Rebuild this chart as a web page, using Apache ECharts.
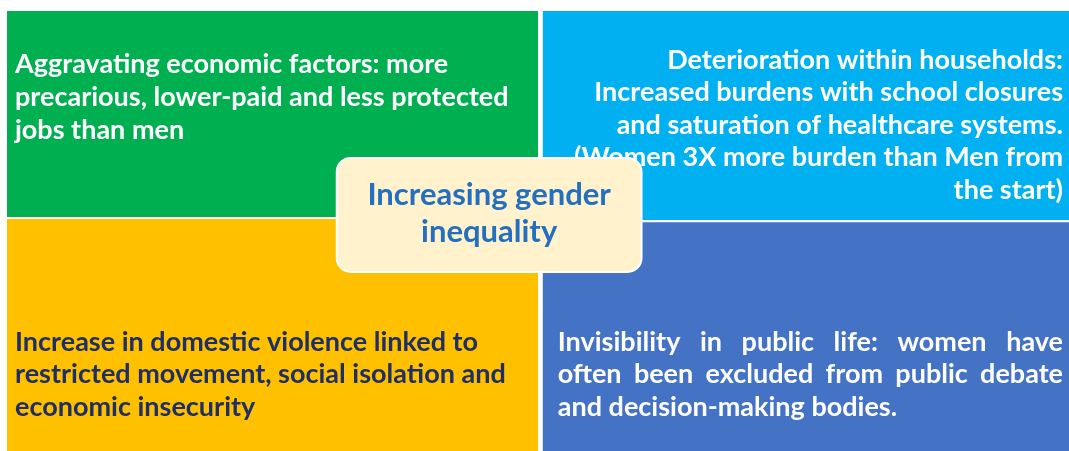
<!DOCTYPE html>
<html>
<head>
<meta charset="utf-8">
<script src="https://cdn.jsdelivr.net/npm/echarts@6/dist/echarts.min.js"></script>
<style>
    html, body {margin: 0; padding: 0; background: #fff;}
    #chart {width: 1069px; height: 451px;}
</style>
</head>
<body>
<div id="chart"></div>
<script>
// quadrant extents in axis units (0..100 both ways, y from top)
const quadrant_x = [[0, 50.0], [50.45, 100], [0, 50.0], [50.45, 100]]
const quadrant_y = [[0, 46.8], [0, 47.5], [47.3, 100], [48.0, 100]]

const quadrant_lines = [
    [
        'Aggravating economic factors: more',
        'precarious, lower-paid and less protected',
        'jobs than men',
    ],
    [
        'Deterioration within households:',
        'Increased burdens with school closures',
        'and saturation of healthcare systems.',
        '(Women 3X more burden than Men from',
        'the start)',
    ],
    [
        'Increase in domestic violence linked to',
        'restricted movement, social isolation and',
        'economic insecurity',
    ],
    [
        'Invisibility in public life: women have',
        'often been excluded from public debate',
        'and decision-making bodies.',
    ],
]

const center_x = [31.05, 59.75]
const center_y = [33.4, 59.3]
const center_lines = ['Increasing gender', 'inequality']

// styles
const FONT = 'Lato'
const FONT_SIZE = 27
const quadrant_colors = ['#00B050', '#00B0F0', '#FFC000', '#4472C4']
const text_colors = ['#ffffff', '#ffffff', '#1F2F66', '#ffffff']
// pad_l, pad_r, first line centre from top, line height, align
const text_layout = [
    {pad_l: 8, pad_r: 0, top: 53, lh: 33, align: 'left'},
    {pad_l: 0, pad_r: 6, top: 49, lh: 32.5, align: 'right'},
    {pad_l: 8, pad_r: 0, top: 123, lh: 32.5, align: 'left'},
    {pad_l: 15, pad_r: 6, top: 120, lh: 32.5, align: 'justify'},
]

const measure_ctx = document.createElement('canvas').getContext('2d')
const text_width = (s, size) => {
    measure_ctx.font = `bold ${size}px ${FONT}`
    return measure_ctx.measureText(s).width
}

const text_el = (text, x, y, align, fill, size) => ({
    type: 'text',
    style: {
        text,
        x,
        y,
        align,
        verticalAlign: 'middle',
        fill,
        font: `bold ${size}px ${FONT}`,
    },
})

const build_lines = (lines, x0, x1, y0, lay, fill, size) => {
    const out = []
    lines.forEach((line, i) => {
        const y = y0 + i * lay.lh
        if (lay.align === 'justify' && i < lines.length - 1) {
            const words = line.split(' ')
            const widths = words.map(w => text_width(w, size))
            const total = widths.reduce((a, b) => a + b, 0)
            const gap = (x1 - x0 - total) / (words.length - 1)
            let x = x0
            words.forEach((w, k) => {
                out.push(text_el(w, x, y, 'left', fill, size))
                x += widths[k] + gap
            })
        } else if (lay.align === 'right') {
            out.push(text_el(line, x1, y, 'right', fill, size))
        } else {
            out.push(text_el(line, x0, y, 'left', fill, size))
        }
    })
    return out
}

const quadrant_data = quadrant_x.map((v, i) => [v[0], v[1], quadrant_y[i][0], quadrant_y[i][1], i])

const chart = echarts.init(document.getElementById('chart'))

chart.setOption({
    animation: false,
    grid: {left: 7, top: 11, right: 0, bottom: 0},
    xAxis: {type: 'value', min: 0, max: 100, show: false},
    yAxis: {type: 'value', min: 0, max: 100, inverse: true, show: false},
    series: [
        {
            type: 'custom',
            data: quadrant_data,
            renderItem: (params, api) => {
                const i = api.value(4)
                const p0 = api.coord([api.value(0), api.value(2)])
                const p1 = api.coord([api.value(1), api.value(3)])
                const lay = text_layout[i]
                return {
                    type: 'group',
                    children: [
                        {
                            type: 'rect',
                            shape: {x: p0[0], y: p0[1], width: p1[0] - p0[0], height: p1[1] - p0[1]},
                            style: {fill: quadrant_colors[i]},
                        },
                        ...build_lines(
                            quadrant_lines[i],
                            p0[0] + lay.pad_l,
                            p1[0] - lay.pad_r,
                            p0[1] + lay.top,
                            lay,
                            text_colors[i],
                            FONT_SIZE,
                        ),
                    ],
                }
            },
        },
        {
            type: 'custom',
            data: [[center_x[0], center_x[1], center_y[0], center_y[1]]],
            z: 5,
            renderItem: (params, api) => {
                const p0 = api.coord([api.value(0), api.value(2)])
                const p1 = api.coord([api.value(1), api.value(3)])
                const cx = (p0[0] + p1[0]) / 2
                return {
                    type: 'group',
                    children: [
                        {
                            type: 'rect',
                            shape: {x: p0[0], y: p0[1], width: p1[0] - p0[0], height: p1[1] - p0[1], r: 14},
                            style: {fill: '#FFF2CC', stroke: '#ffffff', lineWidth: 2},
                        },
                        ...center_lines.map((t, k) => text_el(t, cx, p0[1] + 37 + k * 37, 'center', '#2470BF', 31)),
                    ],
                }
            },
        },
    ],
})
</script>
</body>
</html>
